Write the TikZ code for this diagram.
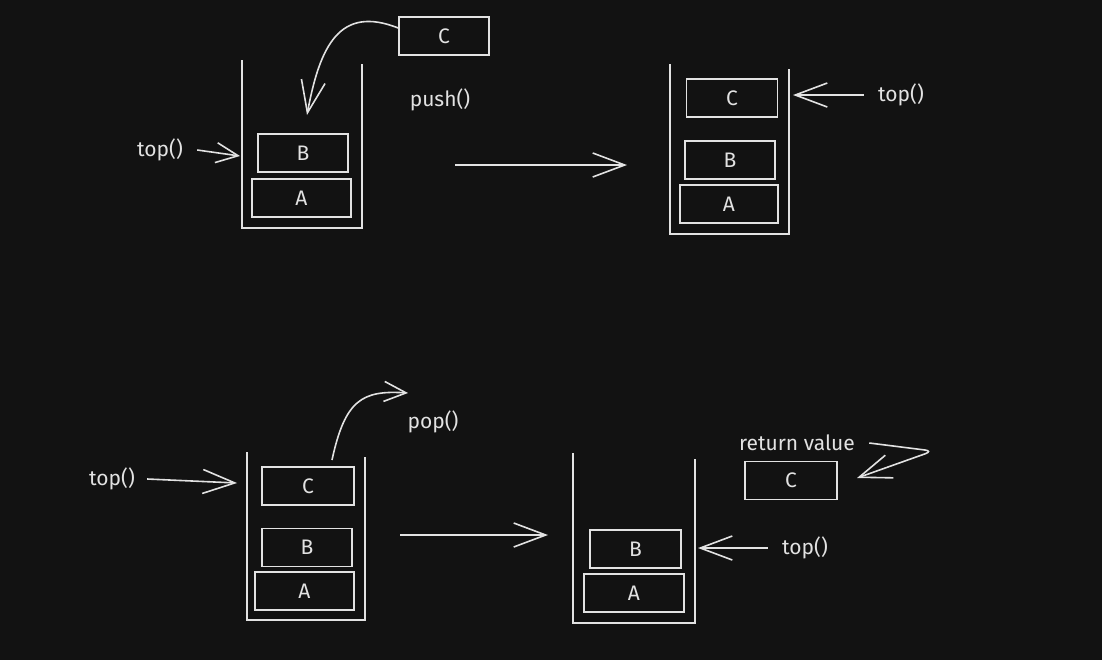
\documentclass[tikz,border=0pt]{standalone}
\usepackage{fontspec}
\setmainfont{Fira Sans}
\usepackage{tikz}
\usetikzlibrary{positioning,arrows.meta}
\definecolor{bgc}{HTML}{121212}
\definecolor{ink}{HTML}{E2E2E2}
\tikzset{
    item/.style={draw=ink, thick, minimum width=45pt, minimum height=19pt, inner sep=0pt, text=ink, font=\fontsize{10.5}{12}\selectfont},
    lbl/.style={text=ink, inner sep=1pt, font=\fontsize{10.5}{12}\selectfont},
    wall/.style={draw=ink, thick},
    arr/.style={draw=ink, thick, -{Straight Barb[length=11pt,width=10pt]}},
    bigarr/.style={draw=ink, thick, -{Straight Barb[length=16pt,width=12pt]}}
}

\begin{document}
\begin{tikzpicture}[x=0.5pt, y=-0.5pt]
    \fill[bgc] (0,0) rectangle (1102,660);
    \useasboundingbox (0,0) rectangle (1102,660);

    % push()
    \node[item] (b1) at (303,153) {B};
    \node[item, minimum width=49.5pt] (a1) at (301.5,198) {A};
    \node[item] (c0) at (444,36) {C};
    \draw[wall] (242,60) -- (242,228) -- (362,228) -- (362,64);
    \node[lbl] (top1) at (160,150) {top()};
    \coordinate (w1) at (240,156);
    \draw[arr] ([xshift=6pt]top1.east) -- (w1);
    \coordinate (in1) at (307,115);
    \draw[bigarr] ([yshift=4pt]c0.west) .. controls (340,5) and (320,45) .. (in1);
    \node[lbl] (push) at (440,100) {push()};

    \coordinate (s1) at (455,165);
    \coordinate (e1) at (627,165);
    \draw[bigarr] (s1) -- (e1);

    \node[item, minimum width=45.5pt] (c2) at (732,98) {C};
    \node[item] (b2) at (730,160) {B};
    \node[item, minimum width=49pt] (a2) at (729,204) {A};
    \draw[wall] (670,64) -- (670,234) -- (789,234) -- (789,69);
    \node[lbl] (top2) at (901,95) {top()};
    \coordinate (w2) at (793,95);
    \draw[bigarr] ([xshift=-6pt]top2.west) -- (w2);

    % pop()
    \node[item, minimum width=46pt] (c3) at (308,486) {C};
    \node[item] (b3) at (307,547.5) {B};
    \node[item, minimum width=49.5pt] (a3) at (304.5,591) {A};
    \draw[wall] (247,452) -- (247,620) -- (365,620) -- (365,457);
    \node[lbl] (top3) at (112,479) {top()};
    \coordinate (w3) at (237,483);
    \draw[bigarr] ([xshift=5pt]top3.east) -- (w3);
    \coordinate (out3) at (408,393);
    \draw[arr] (332,460) .. controls (345,400) and (362,390) .. (out3);
    \node[lbl] (pop) at (433,422) {pop()};

    \coordinate (s2) at (400,535);
    \coordinate (e2) at (548,535);
    \draw[bigarr] (s2) -- (e2);

    \node[item, minimum width=45.5pt] (b4) at (635.5,549) {B};
    \node[item, minimum width=50pt] (a4) at (634,593) {A};
    \draw[wall] (573,453) -- (573,623) -- (695,623) -- (695,459);
    \node[lbl] (top4) at (805,548) {top()};
    \coordinate (w4) at (698,548);
    \draw[bigarr] ([xshift=-6pt]top4.west) -- (w4);
    \node[lbl] (ret) at (797,443) {return value};
    \node[item, minimum width=46pt] (c4) at (791,480.5) {C};
    \coordinate (r4) at (857,478);
    \draw[bigarr, rounded corners=4pt] ([xshift=6pt]ret.east) -- (933,451) -- (r4);
\end{tikzpicture}
\end{document}
